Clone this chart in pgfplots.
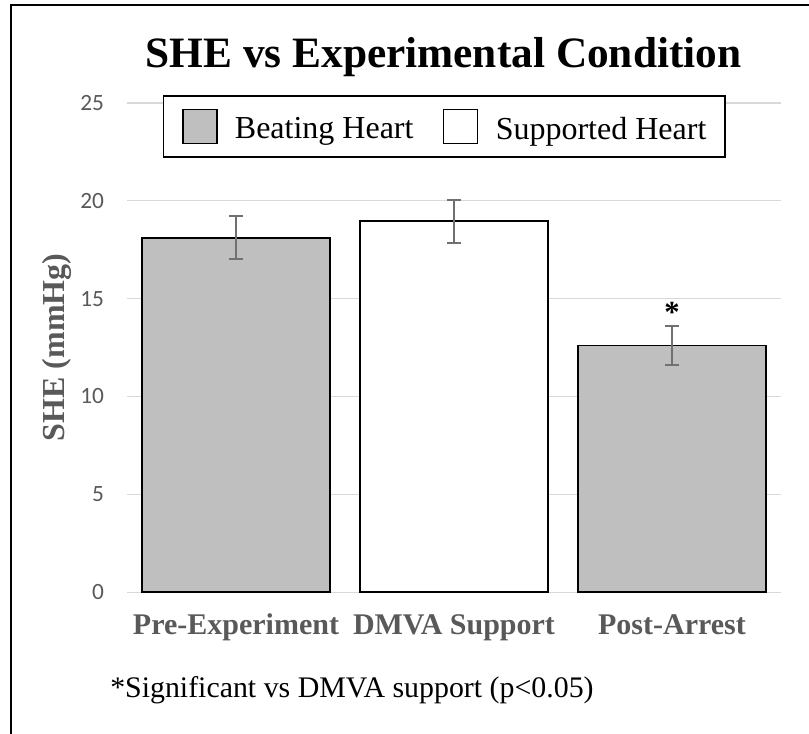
\documentclass[border=0pt]{standalone}
\usepackage{fontspec}
\setmainfont{Liberation Serif}
\newfontfamily\carlito{Carlito}
\usepackage{pgfplots}
\pgfplotsset{compat=1.18}

\definecolor{barfill}{RGB}{191,191,191}
\definecolor{labelgray}{RGB}{89,89,89}
\definecolor{gridgray}{RGB}{217,217,217}
\definecolor{errgray}{RGB}{112,112,112}

\begin{document}
\begin{tikzpicture}

% axis origin sits at pixel (127,592.3) of the reference; 1 px = 0.75pt
\begin{axis}[
    at={(95.25pt,-444.2pt)}, anchor=south west,
    scale only axis,
    width=490.5pt, height=367.1pt,
    xmin=-0.5, xmax=2.5,
    ymin=0, ymax=25,
    xtick={0,1,2},
    xticklabels={Pre-Experiment, DMVA Support, Post-Arrest},
    ytick={0,5,10,15,20,25},
    axis line style={draw=none},
    major tick length=0pt,
    ymajorgrids,
    grid style={gridgray, line width=1.1pt},
    yticklabel style={font=\carlito\fontsize{17.5}{20}\selectfont, text=labelgray,
        anchor=east, inner sep=0pt, xshift=-17pt},
    xticklabel style={font=\bfseries\fontsize{22.5}{26}\selectfont, text=labelgray,
        anchor=base, inner sep=0pt, yshift=-32pt},
    /pgf/number format/assume math mode=true,
    ybar, bar width=0.862, bar shift=0pt,
    legend columns=2,
    legend style={at={(0.485,0.9516)}, anchor=center, draw=black, line width=1pt,
        fill=white, inner xsep=14pt, inner ysep=9.5pt,
        font=\fontsize{24}{28}\selectfont,
        nodes={inner sep=0pt},
        /tikz/every odd column/.append style={column sep=13pt},
        /tikz/every even column/.append style={column sep=22pt}},
    legend image code/.code={\draw[#1] (0pt,-10.75pt) rectangle (25.5pt,14.75pt);},
    error bars/y dir=both,
    error bars/y explicit,
    error bars/error bar style={errgray, line width=1.5pt},
    error bars/error mark options={rotate=90, errgray, mark size=5.25pt, line width=1.5pt},
]

\addplot[fill=barfill, draw=black, line width=1.2pt]
    coordinates {(0,18.1) +- (0,1.1) (2,12.6) +- (0,1.0)};
\addlegendentry{Beating Heart}

\addplot[fill=white, draw=black, line width=1.2pt]
    coordinates {(1,18.95) +- (0,1.1)};
\addlegendentry{Supported Heart}

% significance marker
\node[anchor=base, font=\bfseries\fontsize{23}{26}\selectfont] at (axis cs:2,13.8) {*};

\end{axis}

\begin{scope}[x=0.75pt, y=-0.75pt]
% title, axis title, footnote
\node[anchor=base] at (443.5,67) {\fontsize{32.5}{38}\selectfont\bfseries SHE vs Experimental Condition};
\node[rotate=90, text=labelgray, font=\bfseries\fontsize{24}{28}\selectfont] at (57,347.5) {SHE (mmHg)};
\node[anchor=base west, inner sep=0pt, font=\fontsize{22.4}{26}\selectfont] at (110,697) {*Significant vs DMVA support (p<0.05)};

% frame round the chart (right and bottom sides fall outside)
\draw[line width=1.5pt] (11,760) -- (11,5) -- (840,5);

\pgfresetboundingbox
\useasboundingbox (0,0) rectangle (809,733);
\end{scope}
\end{tikzpicture}
\end{document}
